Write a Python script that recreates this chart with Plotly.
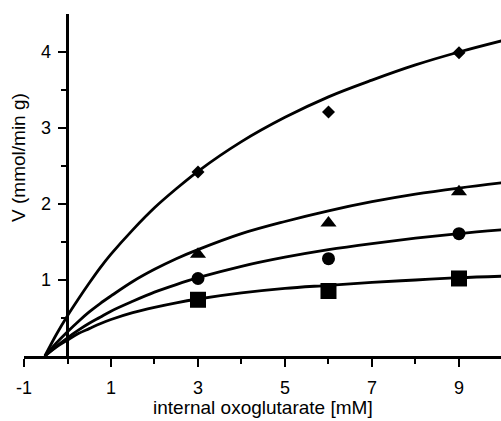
import plotly.graph_objects as go

# measured points
x_pts = [3, 6, 9]
diamond_v = [2.42, 3.21, 3.99]
triangle_v = [1.34, 1.75, 2.16]
circle_v = [1.02, 1.28, 1.61]
square_v = [0.74, 0.855, 1.02]

# fitted curves
x_curve = [-0.52, -0.25, 0, 0.25, 0.5, 0.75, 1, 1.5, 2, 2.5, 3, 4, 5, 6, 7, 8, 9, 10]
diamond_curve = [0, 0.29, 0.53, 0.75, 0.96, 1.16, 1.34, 1.66, 1.95, 2.20, 2.43, 2.82, 3.14, 3.41, 3.63, 3.83, 4.0, 4.15]
triangle_curve = [0, 0.175, 0.32, 0.455, 0.58, 0.69, 0.79, 0.98, 1.14, 1.28, 1.40, 1.61, 1.77, 1.91, 2.03, 2.13, 2.21, 2.28]
circle_curve = [0, 0.13, 0.24, 0.34, 0.43, 0.51, 0.59, 0.72, 0.84, 0.94, 1.03, 1.18, 1.30, 1.40, 1.48, 1.55, 1.61, 1.66]
square_curve = [0, 0.12, 0.21, 0.295, 0.36, 0.425, 0.48, 0.57, 0.64, 0.70, 0.75, 0.83, 0.89, 0.93, 0.97, 1.00, 1.03, 1.05]

x_ticks = [-1, 1, 3, 5, 7, 9]
y_ticks = [1, 2, 3, 4]

FONT = "Liberation Sans, Arial, sans-serif"

fig = go.Figure()
for yc in [diamond_curve, triangle_curve, circle_curve, square_curve]:
    fig.add_trace(go.Scatter(x=x_curve, y=yc, mode="lines",
                             line=dict(color="black", width=2.8, shape="spline", smoothing=1.0),
                             showlegend=False, hoverinfo="skip"))

for yv, sym, sz in [(diamond_v, "diamond", 10), (triangle_v, "triangle-up", 14),
                    (circle_v, "circle", 13), (square_v, "square", 16)]:
    fig.add_trace(go.Scatter(x=x_pts, y=yv, mode="markers",
                             marker=dict(symbol=sym, size=sz, color="black", line=dict(width=0)),
                             showlegend=False, cliponaxis=False))

xmin, xmax = -1, 9.966
fig.update_layout(
    width=501, height=421,
    margin=dict(l=24, r=0, t=14, b=65),
    plot_bgcolor="white", paper_bgcolor="white",
    font=dict(family=FONT, color="black"),
    xaxis=dict(range=[xmin, xmax], showgrid=False, zeroline=False,
               showline=True, linecolor="black", linewidth=3,
               tickmode="array", tickvals=x_ticks, ticktext=[str(v) for v in x_ticks],
               ticks="outside", ticklen=8, tickwidth=2, tickcolor="black",
               tickfont=dict(size=18), ticklabelstandoff=5,
               minor=dict(tickvals=[0, 2, 4, 6, 8], ticks="outside", ticklen=5,
                          tickwidth=2, tickcolor="black")),
    yaxis=dict(range=[0, 4.5], showgrid=False, zeroline=False,
               anchor="free", position=(0 - xmin) / (xmax - xmin),
               showline=True, linecolor="black", linewidth=3,
               tickmode="array", tickvals=y_ticks, ticktext=[str(v) for v in y_ticks],
               ticks="outside", ticklen=8, tickwidth=2, tickcolor="black",
               tickfont=dict(size=18), ticklabelstandoff=4,
               minor=dict(tickvals=[0.5, 1.5, 2.5, 3.5], ticks="outside", ticklen=5,
                          tickwidth=2, tickcolor="black")),
    annotations=[
        dict(text="internal oxoglutarate [mM]", x=0.5, y=-0.152, xref="paper", yref="paper",
             xanchor="center", yanchor="middle", showarrow=False, font=dict(size=19)),
        dict(text="V (mmol/min g)", x=-0.0105, y=0.582, xref="paper", yref="paper",
             xanchor="center", yanchor="middle", textangle=-90, showarrow=False,
             font=dict(size=19)),
    ],
)

fig.write_html("out.html")
